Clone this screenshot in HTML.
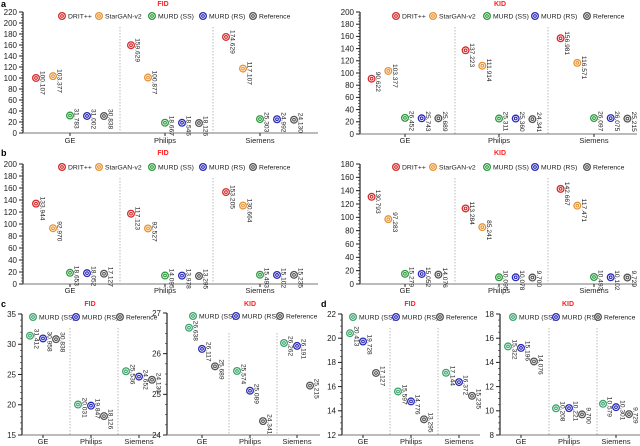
<!DOCTYPE html>
<html><head><meta charset="utf-8">
<style>
html,body{margin:0;padding:0;background:#fff;}
svg{display:block;font-family:"Liberation Sans",sans-serif;}
</style></head>
<body>
<svg id="c" width="640" height="446" viewBox="0 0 640 446" xmlns="http://www.w3.org/2000/svg"></svg>
<script>
// ---- data ----
const groups = ["GE","Philips","Siemens"];
const seriesFive = ["DRIT++","StarGAN-v2","MURD (SS)","MURD (RS)","Reference"];
const seriesThree = ["MURD (SS)","MURD (RS)","Reference"];
const aFID = [[100.107,159.629,174.629],[103.377,100.877,117.107],[31.783,18.667,25.303],[31.002,18.546,24.992],[30.838,18.126,24.130]];
const aKID = [[90.622,137.223,156.981],[103.377,111.914,116.571],[26.452,25.311,26.097],[25.743,25.360,26.075],[25.689,24.341,25.215]];
const bFID = [[133.944,117.123,153.205],[92.970,92.527,130.664],[18.653,14.095,15.493],[18.052,13.978,15.102],[17.127,13.295,15.235]];
const bKID = [[130.793,113.284,142.667],[97.283,85.241,117.471],[15.279,10.095,10.493],[15.052,10.078,10.102],[14.076,9.700,9.729]];
const cFID = [[31.412,20.031,25.536],[30.958,19.847,24.652],[30.838,18.126,24.130]];
const cKID = [[26.638,25.574,26.262],[26.117,25.089,26.191],[25.689,24.341,25.215]];
const dFID = [[20.413,15.597,17.144],[19.728,14.776,16.372],[17.127,13.295,15.235]];
const dKID = [[15.322,10.208,10.579],[15.196,10.221,10.301],[14.076,9.700,9.729]];

const NS="http://www.w3.org/2000/svg";
const svg=document.getElementById('c');
const col5=["#d42a2a","#e8912e","#2b9a3c","#2a2ab8","#555555"];
const col3=["#3aa36a","#2a2ab8","#555555"];
function el(t,a,p){const e=document.createElementNS(NS,t);for(const k in a)e.setAttribute(k,a[k]);(p||svg).appendChild(e);return e;}
function marker(x,y,c,p){
  const g=el('g',{},p);
  
  
  el('circle',{cx:x,cy:y,r:4,fill:c},g);
  el('circle',{cx:x,cy:y,r:2.3,fill:'none',stroke:'#fff','stroke-width':0.8},g);
  el('circle',{cx:x,cy:y,r:0.8,fill:'#fff'},g);
  return g;
}
function panel(o){
  const g=el('g',{});
  
  
  const ys=v=>o.bot-(v-o.min)/(o.max-o.min)*(o.bot-o.top);
  const t=el('text',{x:o.titleX,y:o.titleY,'font-size':7,'font-weight':'bold',fill:'#ff2020','text-anchor':'middle'},g);
  t.textContent=o.title;
  
  
  el('line',{x1:o.ax,y1:o.top,x2:o.ax,y2:o.bot,stroke:'#222','stroke-width':1.2},g);
  el('line',{x1:o.ax,y1:o.bot,x2:o.right,y2:o.bot,stroke:'#777','stroke-width':1},g);
  for(let v=o.min;v<=o.max+1e-9;v+=o.step){
    const y=ys(v);
    el('line',{x1:o.ax-4,y1:y,x2:o.ax,y2:y,stroke:'#222','stroke-width':1},g);
    const tl=el('text',{x:o.ax-6,y:y+2.8,'font-size':8,fill:'#222','text-anchor':'end'},g);
    tl.textContent=String(Math.round(v*100)/100);
    
    
  }
  for(let v=o.min;v<=o.max+1e-9;v+=o.minor){
    const y=ys(v);
    el('line',{x1:o.ax-2,y1:y,x2:o.ax,y2:y,stroke:'#222','stroke-width':0.6},g);
  }
  o.dividers.forEach(x=>el('line',{x1:x,y1:o.divTop,x2:x,y2:o.bot,stroke:'#aaa','stroke-width':0.8,'stroke-dasharray':'1.5,1.5'},g));
  groups.forEach((name,gi)=>{
    const cx=o.centers[gi];
    el('line',{x1:cx,y1:o.bot,x2:cx,y2:o.bot+3,stroke:'#222','stroke-width':1},g);
    const xl=el('text',{x:cx,y:o.xLabY,'font-size':7.5,fill:'#222','text-anchor':'middle'},g);
    xl.textContent=name;
    
    
  });
  const n=o.data.length, mid=(n-1)/2;
  o.data.forEach((arr,si)=>{
    arr.forEach((v,gi)=>{
      const x=o.centers[gi]+(si-mid)*o.off, y=ys(v);
      marker(x,y,o.cols[si],g);
      const lt=el('text',{x:0,y:0,'font-size':6.6,fill:'#222',transform:`translate(${x+4.5},${y-7}) rotate(90)`},g);
      lt.textContent=v.toFixed(3);
      
      
    });
  });
  o.names.forEach((nm,i)=>{
    const lg=el('g',{},g);
    
    
    marker(o.legX[i],o.legY,o.cols[i],lg);
    const lt=el('text',{x:o.legX[i]+6,y:o.legY+2.5,'font-size':6.8,fill:'#222'},lg);
    lt.textContent=nm;
  });
}
function letter(s,x,y){const t=el('text',{x:x,y:y,'font-size':9,'font-weight':'bold',fill:'#000'});t.textContent=s;}
letter('a',1,7);letter('b',1,156);letter('c',1,307);letter('d',321,307);

panel({name:'panel-a-fid',title:'FID',titleX:163,titleY:6,ax:23,right:318,top:12,bot:133,min:0,max:220,step:20,minor:5,data:aFID,cols:col5,names:seriesFive,centers:[70,165,260],off:17,dividers:[120,213],divTop:27,xLabY:143,legX:[62,99,152,203,253],legY:16});
panel({name:'panel-a-kid',title:'KID',titleX:500,titleY:6,ax:360,right:637,top:12,bot:134,min:0,max:200,step:20,minor:5,data:aKID,cols:col5,names:seriesFive,centers:[405,499,594],off:16.7,dividers:[455,548],divTop:27,xLabY:143,legX:[396,433,487,535,587],legY:16});
panel({name:'panel-b-fid',title:'FID',titleX:163,titleY:155,ax:23,right:318,top:164,bot:284,min:0,max:200,step:20,minor:5,data:bFID,cols:col5,names:seriesFive,centers:[70,165,260],off:17,dividers:[120,213],divTop:178,xLabY:293,legX:[62,99,152,203,253],legY:167});
panel({name:'panel-b-kid',title:'KID',titleX:500,titleY:155,ax:360,right:637,top:164,bot:284,min:0,max:180,step:20,minor:5,data:bKID,cols:col5,names:seriesFive,centers:[405,499,594],off:16.7,dividers:[455,548],divTop:178,xLabY:293,legX:[396,433,487,535,587],legY:167});
panel({name:'panel-c-fid',title:'FID',titleX:90,titleY:306,ax:22,right:160,top:314,bot:435,min:15,max:35,step:5,minor:1,data:cFID,cols:col3,names:seriesThree,centers:[43,91,139],off:13,dividers:[70,118],divTop:328,xLabY:444,legX:[33,76,120],legY:317});
panel({name:'panel-c-kid',title:'KID',titleX:250,titleY:306,ax:167,right:320,top:313,bot:435,min:24,max:27,step:1,minor:0.25,data:cKID,cols:col3,names:seriesThree,centers:[202,250,297],off:13,dividers:[229,277],divTop:333,xLabY:444,legX:[193,236,280],legY:316});
panel({name:'panel-d-fid',title:'FID',titleX:410,titleY:306,ax:342,right:480,top:314,bot:435,min:12,max:22,step:2,minor:0.5,data:dFID,cols:col3,names:seriesThree,centers:[363,411,459],off:13,dividers:[390,438],divTop:328,xLabY:444,legX:[353,396,440],legY:317});
panel({name:'panel-d-kid',title:'KID',titleX:568,titleY:306,ax:500,right:640,top:314,bot:435,min:8,max:18,step:2,minor:0.5,data:dKID,cols:col3,names:seriesThree,centers:[521,569,616],off:13,dividers:[549,597],divTop:328,xLabY:444,legX:[513,556,598],legY:317});
</script>
</body></html>
